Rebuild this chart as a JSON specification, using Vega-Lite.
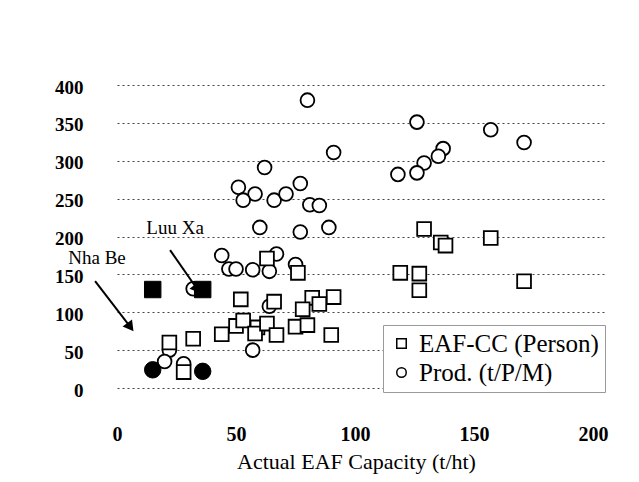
{
  "$schema": "https://vega.github.io/schema/vega-lite/v6.json",
  "width": 488,
  "height": 303,
  "autosize": "none",
  "padding": {"left": 117, "top": 85, "right": 34, "bottom": 94},
  "background": "white",
  "config": {
    "view": {"stroke": null},
    "font": "Liberation Serif",
    "axisX": {
      "grid": false, "domain": false, "ticks": false, "labelOverlap": false,
      "labelFont": "Liberation Serif", "labelFontSize": 20, "labelFontWeight": "bold", "labelColor": "black", "labelPadding": 36, "labelFlush": false,
      "titleFont": "Liberation Serif", "titleFontSize": 22, "titleFontWeight": "normal", "titleColor": "black", "titlePadding": 7
    },
    "axisY": {
      "grid": true, "gridColor": "#444", "gridDash": [2, 3], "gridWidth": 1,
      "domain": false, "ticks": false, "labelOverlap": false, "labelOffset": 2,
      "labelFont": "Liberation Serif", "labelFontSize": 19, "labelFontWeight": "bold", "labelColor": "black", "labelPadding": 34, "labelFlush": false
    }
  },
  "datasets": {
    "pts": [
      {"cap": 80, "val": 380, "series": "Prod. (t/P/M)", "kind": "open"},
      {"cap": 91, "val": 311, "series": "Prod. (t/P/M)", "kind": "open"},
      {"cap": 62, "val": 291, "series": "Prod. (t/P/M)", "kind": "open"},
      {"cap": 51, "val": 265, "series": "Prod. (t/P/M)", "kind": "open"},
      {"cap": 58, "val": 256, "series": "Prod. (t/P/M)", "kind": "open"},
      {"cap": 53, "val": 248, "series": "Prod. (t/P/M)", "kind": "open"},
      {"cap": 66, "val": 248, "series": "Prod. (t/P/M)", "kind": "open"},
      {"cap": 71, "val": 256, "series": "Prod. (t/P/M)", "kind": "open"},
      {"cap": 77, "val": 270, "series": "Prod. (t/P/M)", "kind": "open"},
      {"cap": 81, "val": 242, "series": "Prod. (t/P/M)", "kind": "open"},
      {"cap": 85, "val": 241, "series": "Prod. (t/P/M)", "kind": "open"},
      {"cap": 60, "val": 212, "series": "Prod. (t/P/M)", "kind": "open"},
      {"cap": 77, "val": 206, "series": "Prod. (t/P/M)", "kind": "open"},
      {"cap": 89, "val": 212, "series": "Prod. (t/P/M)", "kind": "open"},
      {"cap": 126, "val": 351, "series": "Prod. (t/P/M)", "kind": "open"},
      {"cap": 157, "val": 341, "series": "Prod. (t/P/M)", "kind": "open"},
      {"cap": 171, "val": 324, "series": "Prod. (t/P/M)", "kind": "open"},
      {"cap": 137, "val": 316, "series": "Prod. (t/P/M)", "kind": "open"},
      {"cap": 135, "val": 306, "series": "Prod. (t/P/M)", "kind": "open"},
      {"cap": 129, "val": 297, "series": "Prod. (t/P/M)", "kind": "open"},
      {"cap": 126, "val": 284, "series": "Prod. (t/P/M)", "kind": "open"},
      {"cap": 118, "val": 282, "series": "Prod. (t/P/M)", "kind": "open"},
      {"cap": 44, "val": 175, "series": "Prod. (t/P/M)", "kind": "open"},
      {"cap": 47, "val": 157, "series": "Prod. (t/P/M)", "kind": "open"},
      {"cap": 50, "val": 157, "series": "Prod. (t/P/M)", "kind": "open"},
      {"cap": 57, "val": 156, "series": "Prod. (t/P/M)", "kind": "open"},
      {"cap": 67, "val": 177, "series": "Prod. (t/P/M)", "kind": "open"},
      {"cap": 64, "val": 154, "series": "Prod. (t/P/M)", "kind": "open"},
      {"cap": 75, "val": 163, "series": "Prod. (t/P/M)", "kind": "open"},
      {"cap": 64, "val": 108, "series": "Prod. (t/P/M)", "kind": "open"},
      {"cap": 57, "val": 50, "series": "Prod. (t/P/M)", "kind": "open"},
      {"cap": 32, "val": 131, "series": "Prod. (t/P/M)", "kind": "open"},
      {"cap": 22, "val": 50, "series": "Prod. (t/P/M)", "kind": "open"},
      {"cap": 20, "val": 35, "series": "Prod. (t/P/M)", "kind": "open"},
      {"cap": 28, "val": 32, "series": "Prod. (t/P/M)", "kind": "open"},
      {"cap": 15, "val": 24, "series": "Prod. (t/P/M)", "kind": "filled"},
      {"cap": 36, "val": 22, "series": "Prod. (t/P/M)", "kind": "filled"},
      {"cap": 63, "val": 171, "series": "EAF-CC (Person)", "kind": "open"},
      {"cap": 76, "val": 152, "series": "EAF-CC (Person)", "kind": "open"},
      {"cap": 129, "val": 210, "series": "EAF-CC (Person)", "kind": "open"},
      {"cap": 136, "val": 192, "series": "EAF-CC (Person)", "kind": "open"},
      {"cap": 138, "val": 188, "series": "EAF-CC (Person)", "kind": "open"},
      {"cap": 157, "val": 198, "series": "EAF-CC (Person)", "kind": "open"},
      {"cap": 119, "val": 152, "series": "EAF-CC (Person)", "kind": "open"},
      {"cap": 127, "val": 151, "series": "EAF-CC (Person)", "kind": "open"},
      {"cap": 127, "val": 129, "series": "EAF-CC (Person)", "kind": "open"},
      {"cap": 171, "val": 141, "series": "EAF-CC (Person)", "kind": "open"},
      {"cap": 52, "val": 117, "series": "EAF-CC (Person)", "kind": "open"},
      {"cap": 66, "val": 114, "series": "EAF-CC (Person)", "kind": "open"},
      {"cap": 82, "val": 119, "series": "EAF-CC (Person)", "kind": "open"},
      {"cap": 91, "val": 120, "series": "EAF-CC (Person)", "kind": "open"},
      {"cap": 85, "val": 111, "series": "EAF-CC (Person)", "kind": "open"},
      {"cap": 78, "val": 104, "series": "EAF-CC (Person)", "kind": "open"},
      {"cap": 44, "val": 71, "series": "EAF-CC (Person)", "kind": "open"},
      {"cap": 50, "val": 82, "series": "EAF-CC (Person)", "kind": "open"},
      {"cap": 53, "val": 89, "series": "EAF-CC (Person)", "kind": "open"},
      {"cap": 59, "val": 80, "series": "EAF-CC (Person)", "kind": "open"},
      {"cap": 58, "val": 72, "series": "EAF-CC (Person)", "kind": "open"},
      {"cap": 63, "val": 85, "series": "EAF-CC (Person)", "kind": "open"},
      {"cap": 67, "val": 70, "series": "EAF-CC (Person)", "kind": "open"},
      {"cap": 75, "val": 81, "series": "EAF-CC (Person)", "kind": "open"},
      {"cap": 80, "val": 83, "series": "EAF-CC (Person)", "kind": "open"},
      {"cap": 90, "val": 70, "series": "EAF-CC (Person)", "kind": "open"},
      {"cap": 32, "val": 65, "series": "EAF-CC (Person)", "kind": "open"},
      {"cap": 22, "val": 60, "series": "EAF-CC (Person)", "kind": "open"},
      {"cap": 28, "val": 21, "series": "EAF-CC (Person)", "kind": "open"},
      {"cap": 15, "val": 130, "series": "EAF-CC (Person)", "kind": "filled"},
      {"cap": 36, "val": 130, "series": "EAF-CC (Person)", "kind": "filled"}
    ],
    "notes": [
      {"cap": 24.4, "val": 211, "label": "Luu Xa"},
      {"cap": -8.4, "val": 171, "label": "Nha Be"}
    ],
    "arrows": [
      {"cap": 22.3, "val": 182, "cap2": 33.6, "val2": 131},
      {"cap": -9.2, "val": 141, "cap2": 5.5, "val2": 81}
    ]
  },
  "layer": [
    {
      "data": {"name": "pts"},
      "transform": [{"filter": "datum.kind === 'open'"}],
      "mark": {"type": "point", "filled": true, "strokeWidth": 1.8, "size": 190, "opacity": 1},
      "encoding": {
        "x": {
          "field": "cap", "type": "quantitative",
          "scale": {"domain": [0, 205], "nice": false, "zero": false},
          "axis": {"title": "Actual EAF Capacity (t/ht)", "values": [0, 50, 100, 150, 200], "titleX": 239}
        },
        "y": {
          "field": "val", "type": "quantitative",
          "scale": {"domain": [0, 400], "nice": false},
          "axis": {"title": null, "values": [0, 50, 100, 150, 200, 250, 300, 350, 400]}
        },
        "fill": {"value": "white"},
        "stroke": {"value": "black"},
        "shape": {
          "field": "series", "type": "nominal",
          "scale": {"domain": ["EAF-CC (Person)", "Prod. (t/P/M)"], "range": ["square", "circle"]},
          "legend": {
            "title": null, "orient": "none", "legendX": 266, "legendY": 240,
            "labelFont": "Liberation Serif", "labelFontSize": 25, "labelColor": "black", "labelLimit": 400,
            "symbolStrokeWidth": 1.5, "symbolSize": 90,
            "rowPadding": 3, "labelOffset": 5, "padding": 6,
            "fillColor": "white", "strokeColor": "#999"
          }
        }
      }
    },
    {
      "data": {"name": "pts"},
      "transform": [{"filter": "datum.kind === 'filled'"}],
      "mark": {"type": "point", "filled": true, "fill": "black", "stroke": "black", "strokeWidth": 1, "size": 270, "opacity": 1},
      "encoding": {
        "x": {"field": "cap", "type": "quantitative", "axis": {"title": "Actual EAF Capacity (t/ht)", "values": [0, 50, 100, 150, 200], "titleX": 239}},
        "y": {"field": "val", "type": "quantitative", "axis": {"title": null, "values": [0, 50, 100, 150, 200, 250, 300, 350, 400]}},
        "shape": {"field": "series", "type": "nominal", "legend": null}
      }
    },
    {
      "data": {"name": "arrows"},
      "mark": {"type": "rule", "stroke": "black", "strokeWidth": 2},
      "encoding": {
        "x": {"field": "cap", "type": "quantitative", "axis": {"title": "Actual EAF Capacity (t/ht)", "values": [0, 50, 100, 150, 200], "titleX": 239}},
        "y": {"field": "val", "type": "quantitative", "axis": {"title": null, "values": [0, 50, 100, 150, 200, 250, 300, 350, 400]}},
        "x2": {"field": "cap2"},
        "y2": {"field": "val2"}
      }
    },
    {
      "data": {"name": "arrows"},
      "mark": {"type": "point", "shape": "triangle-down", "filled": true, "fill": "black", "stroke": "black", "size": 70, "angle": 323, "opacity": 1},
      "encoding": {
        "x": {"field": "cap2", "type": "quantitative", "axis": {"title": "Actual EAF Capacity (t/ht)", "values": [0, 50, 100, 150, 200], "titleX": 239}},
        "y": {"field": "val2", "type": "quantitative", "axis": {"title": null, "values": [0, 50, 100, 150, 200, 250, 300, 350, 400]}}
      }
    },
    {
      "data": {"name": "notes"},
      "mark": {"type": "text", "font": "Liberation Serif", "fontSize": 19, "color": "black", "align": "center", "baseline": "middle"},
      "encoding": {
        "x": {"field": "cap", "type": "quantitative", "axis": {"title": "Actual EAF Capacity (t/ht)", "values": [0, 50, 100, 150, 200], "titleX": 239}},
        "y": {"field": "val", "type": "quantitative", "axis": {"title": null, "values": [0, 50, 100, 150, 200, 250, 300, 350, 400]}},
        "text": {"field": "label"}
      }
    }
  ]
}
